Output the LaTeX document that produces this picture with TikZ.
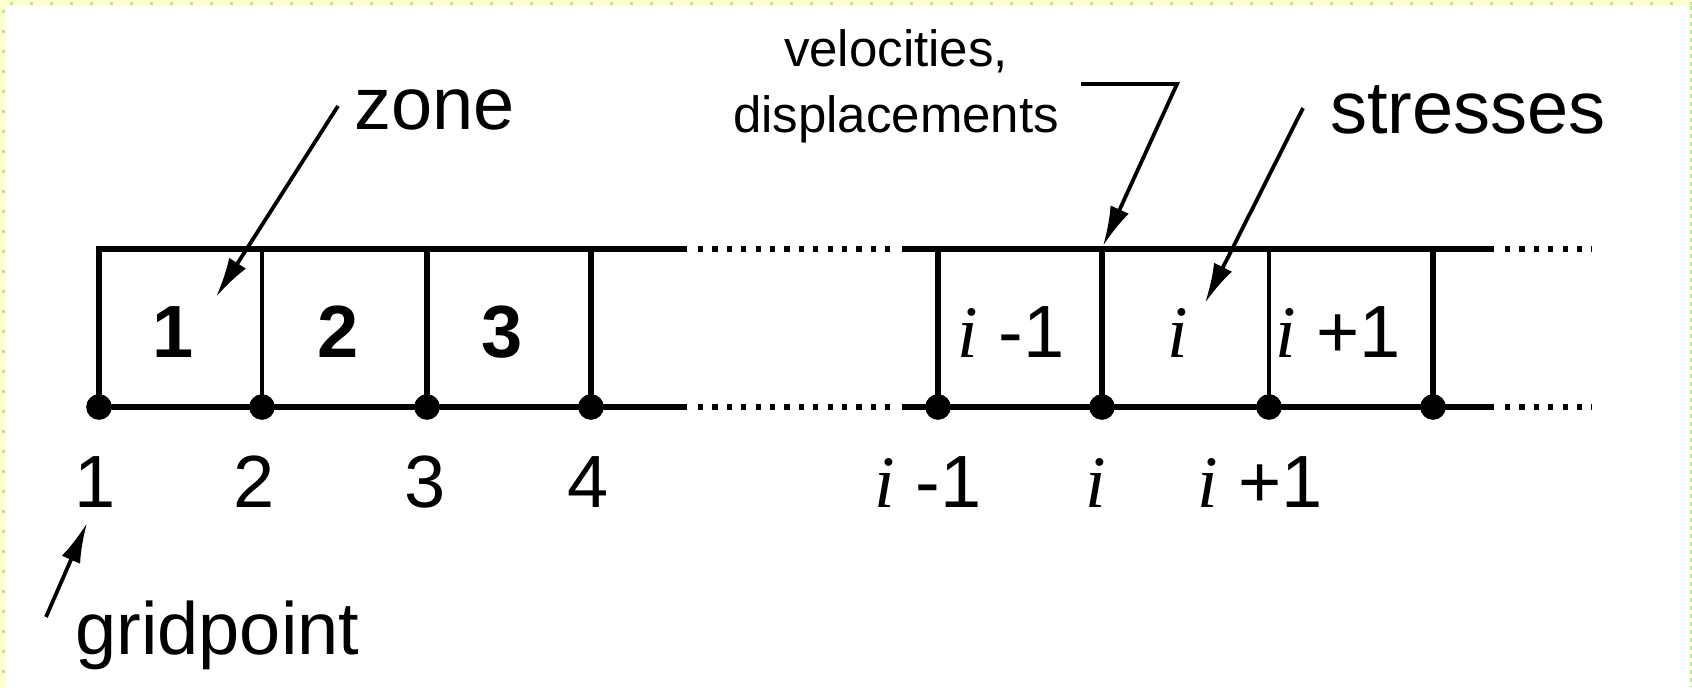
\documentclass[tikz,border=0pt]{standalone}
\usepackage{fontspec}
\setmainfont{Liberation Sans}
\newfontfamily\tmsfont{Liberation Serif}
\usetikzlibrary{arrows.meta}
\newcommand\ivar{{\tmsfont\itshape i}}
\definecolor{bgyellow}{HTML}{FFFFD0}
\definecolor{dotgreen}{HTML}{A8F080}
\begin{document}
\begin{tikzpicture}[x=0.5pt,y=-0.5pt,
  big/.style={font=\fontsize{37}{44}\selectfont, inner sep=0pt},
  bigbold/.style={font=\fontsize{37}{44}\selectfont\bfseries, inner sep=0pt},
  small/.style={font=\fontsize{25.5}{33}\selectfont, inner sep=0pt, align=center},
  hline/.style={line width=3.1pt, line cap=butt, line join=miter},
  dotline/.style={line width=3.1pt, dash pattern=on 2.6pt off 4.6pt},
  thickv/.style={line width=2.8pt},
  thinv/.style={line width=2pt},
  gpt/.style={fill=black},
  pointer/.style={line width=1.9pt, -{Latex[length=20pt,width=10pt]}},
]
\useasboundingbox (0,0) rectangle (1692,687);
% frame
\fill[bgyellow] (0,0) rectangle (1692,687);
\fill[white] (6,6) rectangle (1690,687);
\draw[dotgreen, line width=1.5pt, dash pattern=on 1.5pt off 8.5pt] (10,3) -- (1692,3);
\draw[dotgreen, line width=1.5pt, dash pattern=on 1.5pt off 8.5pt] (3,10) -- (3,687);
\draw[dotgreen, line width=0.8pt, dash pattern=on 2pt off 2pt] (1691,6) -- (1691,687);

% grid coordinates
\foreach \n/\x in {1/99,2/262,3/427,4/591,a/938,b/1102,c/1269,d/1433}{
  \coordinate (t\n) at (\x,249);
  \coordinate (g\n) at (\x,407);
}
\coordinate (tL1) at (687,249);  \coordinate (gL1) at (687,407);
\coordinate (tD1) at (698,249);  \coordinate (gD1) at (698,407);
\coordinate (tD2) at (892,249);  \coordinate (gD2) at (892,407);
\coordinate (tR1) at (902,249);  \coordinate (gR1) at (902,407);
\coordinate (tR2) at (1494,249); \coordinate (gR2) at (1494,407);
\coordinate (tE1) at (1505,249); \coordinate (gE1) at (1505,407);
\coordinate (tE2) at (1592,249); \coordinate (gE2) at (1592,407);

% horizontal lines
\draw[hline] (g1) -- (t1) -- (tL1);
\draw[hline] (g1) -- (gL1);
\draw[dotline] (tD1) -- (tD2);
\draw[dotline] (gD1) -- (gD2);
\draw[hline] (tR1) -- (tR2);
\draw[hline] (gR1) -- (gR2);
\draw[dotline] (tE1) -- (tE2);
\draw[dotline] (gE1) -- (gE2);

% verticals
\draw[thinv] (t2) -- (g2);
\draw[thickv] (t3) -- (g3);
\draw[thickv] (t4) -- (g4);
\draw[thickv] (ta) -- (ga);
\draw[thickv] (tb) -- (gb);
\draw[thinv] (tc) -- (gc);
\draw[thickv] (td) -- (gd);

% gridpoints
\foreach \n in {1,2,3,4,a,b,c,d}{ \fill[gpt] (g\n) circle (6.4pt); }

% zone labels
\node[bigbold, anchor=base] (z1) at (173,357) {1};
\node[bigbold, anchor=base] (z2) at (338,357) {2};
\node[bigbold, anchor=base] (z3) at (502,357) {3};
\node[big, anchor=base] (za) at (1011,357) {\ivar{} -1};
\node[big, anchor=base] (zb) at (1178,357) {\ivar};
\node[big, anchor=base] (zc) at (1338,357) {\ivar{} +1};

% gridpoint labels
\node[big, anchor=base] (n1) at (95,507) {1};
\node[big, anchor=base] (n2) at (254,507) {2};
\node[big, anchor=base] (n3) at (425,507) {3};
\node[big, anchor=base] (n4) at (588,507) {4};
\node[big, anchor=base] (na) at (928,507) {\ivar{} -1};
\node[big, anchor=base] (nb) at (1096,507) {\ivar};
\node[big, anchor=base] (nc) at (1260,507) {\ivar{} +1};

% annotations
\node[big, anchor=base west] (zone) at (354,129) {zone};
\node[big, anchor=base west] (stress) at (1330,133) {stresses};
\node[big, anchor=base west] (grid) at (75,654) {gridpoint};
\node[small, anchor=base] (vel) at (896,132) {velocities,\\displacements};

\coordinate (zoneS) at (338,106);
\coordinate (zoneT) at (216,297);
\coordinate (strS) at (1303,108);
\coordinate (strT) at (1205,303);
\coordinate (velS) at (1081,84);
\coordinate (velK) at (1177,84);
\coordinate (velT) at (1103,246);
\coordinate (gridS) at (46,617);
\coordinate (gridT) at (87,523);

\draw[pointer] (zoneS) -- (zoneT);
\draw[pointer] (strS) -- (strT);
\draw[pointer, line join=miter] (velS) -- (velK) -- (velT);
\draw[pointer] (gridS) -- (gridT);
\end{tikzpicture}
\end{document}
